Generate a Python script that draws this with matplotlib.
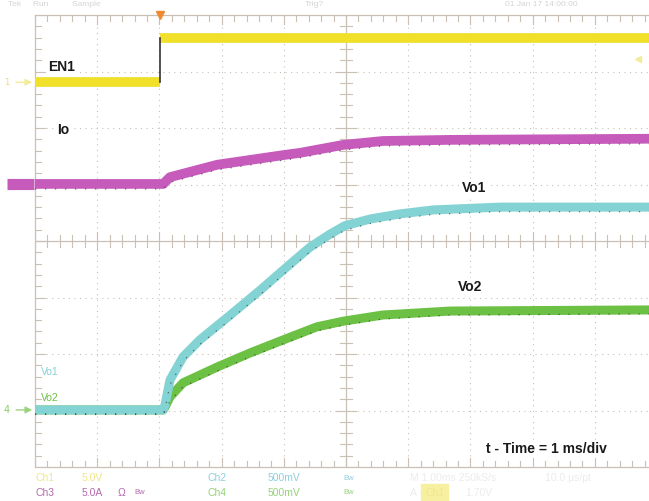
import numpy as np
import matplotlib
matplotlib.use("Agg")
import matplotlib.pyplot as plt

# 示波器截图: 时间单位 ms (1 ms/div), 纵轴单位 div (0..8)
t_en1 = [0.0, 2.01, 2.01, 9.87]
en1 = [6.81, 6.81, 7.59, 7.59]

t_io = [0.0, 2.06, 2.17, 2.93, 3.99, 4.26, 4.95, 5.59, 6.67, 9.87]
io = [5.01, 5.01, 5.13, 5.35, 5.52, 5.56, 5.70, 5.77, 5.79, 5.81]

t_vo1 = [0.0, 2.06, 2.09, 2.17, 2.38, 2.65, 3.14, 3.62, 4.10, 4.42, 4.74, 4.98, 5.39, 5.87, 6.40, 7.48, 9.87]
vo1 = [1.01, 1.01, 1.10, 1.54, 1.95, 2.25, 2.69, 3.13, 3.59, 3.89, 4.12, 4.27, 4.39, 4.48, 4.55, 4.60, 4.60]

t_vo2 = [0.0, 2.06, 2.09, 2.17, 2.38, 2.93, 3.46, 3.99, 4.53, 4.95, 5.59, 6.67, 9.87]
vo2 = [1.01, 1.01, 1.06, 1.24, 1.49, 1.77, 2.02, 2.25, 2.48, 2.58, 2.69, 2.76, 2.78]

YEL = '#f0e02a'
MAG = '#c75bbb'
CYA = '#84d3d4'
GRN = '#6cc144'
GRID = '#c9c0b6'

W, H = 649, 501
fig = plt.figure(figsize=(W / 100, H / 100), dpi=100)
ax = fig.add_axes([35 / W, 34 / H, 614 / W, 452 / H])
ax.set_xlim(0, 9.87)
ax.set_ylim(0, 8)
ax.set_xticks([])
ax.set_yticks([])
ax.spines['right'].set_visible(False)
for s in ['left', 'top', 'bottom']:
    ax.spines[s].set_color(GRID)
    ax.spines[s].set_linewidth(0.9)

# 网格
for xv in range(1, 10):
    if xv != 5:
        ax.axvline(xv, color=GRID, lw=0.8, ls=(0, (1, 4)), zorder=0)
for yv in range(1, 8):
    if yv != 4:
        ax.axhline(yv, color=GRID, lw=0.8, ls=(0, (1, 4)), zorder=0)
ax.axvline(5, color=GRID, lw=0.9, zorder=0)
ax.axhline(4, color=GRID, lw=0.9, zorder=0)

# 刻度
minor_x = np.arange(0, 9.9, 0.2)
minor_y = np.arange(0, 8.01, 0.2)
for xv in minor_x:
    h = 0.1 if abs(xv - round(xv)) > 1e-6 else 0.16
    ax.plot([xv, xv], [4 - h, 4 + h], color=GRID, lw=0.8, zorder=0)
    ax.plot([xv, xv], [0, h], color=GRID, lw=0.8, zorder=0)
    ax.plot([xv, xv], [8 - h, 8], color=GRID, lw=0.8, zorder=0)
for yv in minor_y:
    h = 0.1 if abs(yv - round(yv)) > 1e-6 else 0.16
    ax.plot([5 - h, 5 + h], [yv, yv], color=GRID, lw=0.8, zorder=0)
    ax.plot([0, h], [yv, yv], color=GRID, lw=0.8, zorder=0)

# 波形
ax.plot(t_en1[:2], en1[:2], color=YEL, lw=7, solid_capstyle='butt', zorder=3)
ax.plot(t_en1[2:], en1[2:], color=YEL, lw=7, solid_capstyle='butt', zorder=3)
ax.plot([t_en1[1], t_en1[2]], [en1[1], en1[2]], color='#333333', lw=1.2, zorder=4)
ax.plot(t_io, io, color=MAG, lw=7, solid_joinstyle='round', zorder=3)
ax.plot(t_vo2, vo2, color=GRN, lw=6.5, solid_joinstyle='round', zorder=3)
ax.plot(t_vo1, vo1, color=CYA, lw=6.5, solid_joinstyle='round', zorder=3)

# 噪声黑点
for tt, yy, off in [(t_io, io, -0.09), (t_vo2, vo2, -0.07), (t_vo1, vo1, -0.08)]:
    ax.plot(tt, np.array(yy) + off, color='#222222', lw=0.9, ls=(0, (1, 7)), alpha=0.6, zorder=4)

# 标签
lab = dict(fontsize=10, fontweight='bold', family='Liberation Sans', color='#1a1a1a', zorder=6,
           va='center', bbox=dict(facecolor='white', edgecolor='none', pad=1.5))
ax.text(0.21, 7.08, 'EN1', **lab)
ax.text(0.36, 5.96, 'Io', **lab)
ax.text(6.87, 4.94, 'Vo1', **lab)
ax.text(6.80, 3.18, 'Vo2', **lab)
ax.text(7.25, 0.32, 't - Time = 1 ms/div', **lab)

small = dict(fontsize=7.5, family='Liberation Sans', va='center', zorder=6)
ax.text(0.09, 1.68, 'Vo1', color=CYA, **small)
ax.text(0.09, 1.22, 'Vo2', color=GRN, **small)

# 通道标记
ax.text(-0.45, en1[0], '1', color='#e8dc80', fontsize=6, va='center', ha='center', clip_on=False)
ax.annotate('', xy=(0, en1[0]), xytext=(-0.35, en1[0]), annotation_clip=False,
            arrowprops=dict(arrowstyle='-|>', color='#f3ec9a', lw=1))
ax.plot([-0.45, -0.02], [io[0], io[0]], color=MAG, lw=8, clip_on=False, solid_capstyle='butt')
ax.text(-0.45, vo2[0], '4', color='#8acc6a', fontsize=7, va='center', ha='center', clip_on=False)
ax.annotate('', xy=(0, vo2[0]), xytext=(-0.35, vo2[0]), annotation_clip=False,
            arrowprops=dict(arrowstyle='-|>', color='#9ad27e', lw=1))
ax.plot([2.01], [8.0], marker='v', color='#f08a30', ms=6, clip_on=False, zorder=5)
ax.plot([9.7], [7.22], marker='<', color='#f3ec9a', ms=5, clip_on=False, zorder=5)

# 状态栏文字
st = dict(fontsize=7.5, family='Liberation Sans', va='center')
bw = dict(fontsize=5.5, family='Liberation Sans', va='center')
fig.text(35 / W, 1 - 478 / H, 'Ch1', color='#f0e68a', **st)
fig.text(82 / W, 1 - 478 / H, '5.0V', color='#f0e68a', **st)
fig.text(208 / W, 1 - 478 / H, 'Ch2', color='#8ccfe0', **st)
fig.text(268 / W, 1 - 478 / H, '500mV', color='#8ccfe0', **st)
fig.text(343 / W, 1 - 478 / H, 'Bw', color='#8ccfe0', **bw)
fig.text(410 / W, 1 - 478 / H, 'M 1.00ms 250kS/s', color='#ececec', **st)
fig.text(545 / W, 1 - 478 / H, '10.0 µs/pt', color='#ececec', **st)
fig.text(35 / W, 1 - 493 / H, 'Ch3', color='#b56aae', **st)
fig.text(82 / W, 1 - 493 / H, '5.0A', color='#b56aae', **st)
fig.text(118 / W, 1 - 493 / H, 'Ω', color='#b56aae', **st)
fig.text(134 / W, 1 - 493 / H, 'Bw', color='#b56aae', **bw)
fig.text(208 / W, 1 - 493 / H, 'Ch4', color='#95d27a', **st)
fig.text(268 / W, 1 - 493 / H, '500mV', color='#95d27a', **st)
fig.text(343 / W, 1 - 493 / H, 'Bw', color='#95d27a', **bw)
fig.text(410 / W, 1 - 493 / H, 'A', color='#ececec', **st)
fig.text(425 / W, 1 - 493 / H, 'Ch1', color='#f0e68a', backgroundcolor='#f7f0a0', **st)
fig.text(465 / W, 1 - 493 / H, '1.70V', color='#ececec', **st)
top = dict(fontsize=6, family='Liberation Sans', va='center', color='#d4d4d4')
fig.text(8 / W, 1 - 5 / H, 'Tek     Run          Sample', **top)
fig.text(305 / W, 1 - 5 / H, 'Trig?', **top)
fig.text(505 / W, 1 - 5 / H, '01 Jan 17 14:00:00', **top)

fig.savefig('out.png', dpi=100, facecolor='white')
